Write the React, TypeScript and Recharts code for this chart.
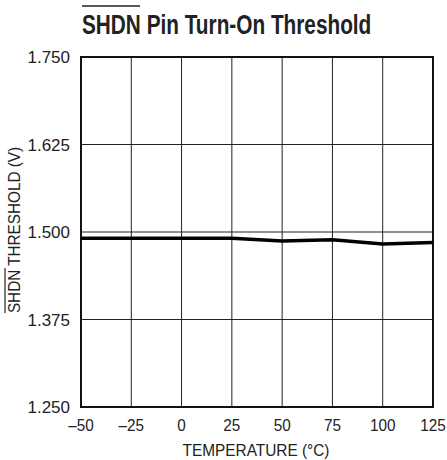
import {
  LineChart,
  Line,
  XAxis,
  YAxis,
  CartesianGrid,
  ReferenceArea,
} from "recharts";

const temps = [-50, -25, 0, 25, 50, 75, 100, 125];
const threshold = [1.491, 1.491, 1.491, 1.491, 1.487, 1.489, 1.483, 1.485];
const xTicks = [-50, -25, 0, 25, 50, 75, 100, 125];
const yTicks = [1.25, 1.375, 1.5, 1.625, 1.75];

const data = temps.map((t, i) => ({ temp: t, v: threshold[i] }));

const FONT = "'Liberation Sans', Arial, sans-serif";
const INK = "#222";

const fmtX = (v: number) => (v < 0 ? "\u2013" + Math.abs(v) : String(v));

// x tick labels are a touch condensed in the original
const XTick = ({ x, y, payload }: any) => (
  <text
    transform={`translate(${x} ${y}) scale(0.9 1)`}
    textAnchor="middle"
    dy="0.71em"
    fontFamily={FONT}
    fontSize={17}
    fill={INK}
  >
    {fmtX(payload.value)}
  </text>
);

export default function App() {
  return (
    <div
      style={{
        position: "absolute",
        left: 0,
        top: 0,
        width: 447,
        height: 460,
        background: "#fff",
      }}
    >
      <LineChart
        width={447}
        height={460}
        data={data}
        margin={{ top: 57, right: 14, left: 21, bottom: 23 }}
      >
        <CartesianGrid stroke={INK} strokeWidth={1} />
        <XAxis
          dataKey="temp"
          type="number"
          domain={[-50, 125]}
          ticks={xTicks}
          tickLine={false}
          axisLine={false}
          tickMargin={6}
          tick={<XTick />}
          height={30}
        />
        <YAxis
          type="number"
          domain={[1.25, 1.75]}
          ticks={yTicks}
          tickFormatter={(v: number) => v.toFixed(3)}
          tickLine={false}
          axisLine={false}
          tickMargin={5}
          tick={{ fill: INK, fontSize: 17, fontFamily: FONT }}
          width={60}
        />
        <ReferenceArea
          x1={-50}
          x2={125}
          y1={1.25}
          y2={1.75}
          fill="none"
          stroke="#111"
          strokeWidth={2}
          ifOverflow="visible"
        />
        <Line
          type="linear"
          dataKey="v"
          stroke="#000"
          strokeWidth={3.5}
          dot={false}
          isAnimationActive={false}
        />
      </LineChart>
      <svg
        width={447}
        height={460}
        style={{ position: "absolute", left: 0, top: 0, pointerEvents: "none" }}
      >
        <text
          transform="translate(82 34) scale(0.77 1)"
          fontFamily={FONT}
          fontWeight="bold"
          fontSize={27}
          fill={INK}
        >
          SHDN Pin Turn-On Threshold
        </text>
        <line x1={82} y1={6} x2={140} y2={6} stroke={INK} strokeWidth={1.5} />
        <text
          transform="translate(20 230) rotate(-90) scale(0.9 1)"
          textAnchor="middle"
          fontFamily={FONT}
          fontSize={17}
          fill={INK}
        >
          SHDN THRESHOLD (V)
        </text>
        <line x1={5} y1={268} x2={5} y2={313} stroke={INK} strokeWidth={1.2} />
        <text
          transform="translate(256 456) scale(0.905 1)"
          textAnchor="middle"
          fontFamily={FONT}
          fontSize={17}
          fill={INK}
        >
          TEMPERATURE (°C)
        </text>
      </svg>
    </div>
  );
}
